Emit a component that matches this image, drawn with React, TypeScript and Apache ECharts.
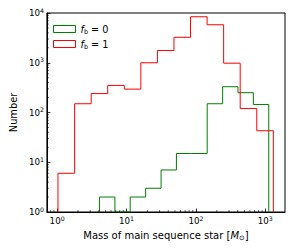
import React, { useEffect, useRef } from 'react';
import * as echarts from 'echarts';

// Histogram bin edges (solar masses) and counts
const redEdges = [1.03, 1.79, 3.1, 5.37, 9.29, 16.1, 27.9, 48.3, 83.7, 145, 251, 435, 754, 1306];
const redCounts = [6, 150, 240, 350, 295, 1000, 1760, 3250, 8400, 5800, 980, 120, 43];
const greenEdges = [4.08, 6.81, 11.3, 18.9, 31.5, 52.4, 87.3, 145.5, 243, 404, 673, 1122];
const greenCounts = [2, 0, 2, 3, 7, 15, 15, 150, 330, 250, 145];

const fbValues = ['0', '1'];
const seriesColors = ['#008000', '#ff0000'];

const xMin = 0.713;
const xMax = 1923;
const yMin = 1;
const yMax = 10000;

const xDecades = [-1, 0, 1, 2, 3];
const yDecades = [0, 1, 2, 3];
const minorMultipliers = [2, 3, 4, 5, 6, 7, 8, 9];

const FONT = 'DejaVu Sans';

function stepPoints(edges: number[], counts: number[], base: number): number[][] {
  const pts: number[][] = [[edges[0], base]];
  counts.forEach((c, i) => {
    const v = c > 0 ? c : base;
    pts.push([edges[i], v], [edges[i + 1], v]);
  });
  pts.push([edges[edges.length - 1], base]);
  return pts;
}

function powLabel(v: number): string {
  const e = Math.log10(v);
  const r = Math.round(e);
  if (Math.abs(e - r) > 1e-6) return '';
  return `{b|10}{s|${r}}`;
}

const tickRich = {
  b: { fontFamily: FONT, fontSize: 8.7, lineHeight: 12, color: '#000' },
  s: { fontFamily: FONT, fontSize: 6.2, lineHeight: 6, verticalAlign: 'top', color: '#000' },
};

export default function App() {
  const ref = useRef<HTMLDivElement>(null);
  useEffect(() => {
    if (!ref.current) return;
    const chart = echarts.init(ref.current, undefined, { renderer: 'svg' });

    const minorData: number[][] = [];
    xDecades.forEach((d) => {
      minorMultipliers.forEach((m) => {
        const v = m * Math.pow(10, d);
        if (v > xMin && v < xMax) minorData.push([v, yMin, 0]);
      });
    });
    yDecades.forEach((d) => {
      minorMultipliers.forEach((m) => {
        const v = m * Math.pow(10, d);
        if (v > yMin && v < yMax) minorData.push([xMin, v, 1]);
      });
    });

    const names = fbValues.map((f) => `fb = ${f}`);

    chart.setOption({
      animation: false,
      textStyle: { fontFamily: FONT },
      grid: {
        left: 40,
        right: 6,
        top: 13,
        bottom: 37,
        show: true,
        borderColor: '#000',
        borderWidth: 1,
        backgroundColor: 'transparent',
      },
      legend: {
        orient: 'vertical',
        left: 48,
        top: 19,
        itemWidth: 22,
        itemHeight: 7,
        itemGap: 4,
        icon: 'rect',
        data: names.map((n, i) => ({
          name: n,
          itemStyle: { color: 'rgba(0,0,0,0)', borderColor: seriesColors[i], borderWidth: 1 },
        })),
        formatter: (name: string) => `{i|f}{sub|b}{n| = ${name.split('= ')[1]}}`,
        textStyle: {
          rich: {
            i: { fontFamily: FONT, fontStyle: 'italic', fontSize: 9.7, lineHeight: 12, color: '#000' },
            sub: { fontFamily: FONT, fontSize: 6.5, lineHeight: 7, verticalAlign: 'bottom', color: '#000' },
            n: { fontFamily: FONT, fontSize: 9.7, lineHeight: 12, color: '#000' },
          },
        },
      },
      xAxis: {
        type: 'log',
        logBase: 10,
        min: xMin,
        max: xMax,
        name: '{t|Mass of main sequence star [}{m|M}{o|⊙}{t|]}',
        nameLocation: 'middle',
        nameGap: 15,
        nameTextStyle: {
          rich: {
            t: { fontFamily: FONT, fontSize: 10, lineHeight: 13, color: '#000' },
            m: { fontFamily: FONT, fontSize: 10, fontStyle: 'italic', lineHeight: 13, color: '#000' },
            o: { fontFamily: FONT, fontSize: 6.8, lineHeight: 8, verticalAlign: 'bottom', color: '#000' },
          },
        },
        axisLine: { show: true, lineStyle: { color: '#000', width: 1 } },
        axisTick: { show: true, inside: true, length: 3.5, lineStyle: { color: '#000', width: 0.8 } },
        splitLine: { show: false },
        axisLabel: {
          formatter: powLabel,
          rich: tickRich,
          margin: 3,
          showMinLabel: false,
          showMaxLabel: false,
          hideOverlap: false,
        },
      },
      yAxis: {
        type: 'log',
        logBase: 10,
        min: yMin,
        max: yMax,
        name: 'Number',
        nameLocation: 'middle',
        nameGap: 23,
        nameTextStyle: { fontFamily: FONT, fontSize: 9.8, color: '#000' },
        axisLine: { show: true, lineStyle: { color: '#000', width: 1 } },
        axisTick: { show: true, inside: true, length: 3.5, lineStyle: { color: '#000', width: 0.8 } },
        splitLine: { show: false },
        axisLabel: {
          formatter: powLabel,
          rich: tickRich,
          margin: 3,
          showMinLabel: true,
          showMaxLabel: true,
        },
      },
      series: [
        {
          name: names[0],
          type: 'line',
          data: stepPoints(greenEdges, greenCounts, yMin),
          showSymbol: false,
          symbol: 'none',
          lineStyle: { color: seriesColors[0], width: 1 },
          itemStyle: { color: seriesColors[0] },
          z: 2,
        },
        {
          name: names[1],
          type: 'line',
          data: stepPoints(redEdges, redCounts, yMin),
          showSymbol: false,
          symbol: 'none',
          lineStyle: { color: seriesColors[1], width: 1 },
          itemStyle: { color: seriesColors[1] },
          z: 3,
        },
        {
          type: 'custom',
          silent: true,
          clip: false,
          z: 10,
          data: minorData,
          renderItem: (params: any, api: any) => {
            const kind = api.value(2);
            const p = api.coord([api.value(0), api.value(1)]);
            const cs = params.coordSys;
            if (kind === 0) {
              const yb = cs.y + cs.height;
              return {
                type: 'line',
                shape: { x1: p[0], y1: yb, x2: p[0], y2: yb - 2 },
                style: { stroke: '#000', lineWidth: 0.6 },
              };
            }
            return {
              type: 'line',
              shape: { x1: cs.x, y1: p[1], x2: cs.x + 2, y2: p[1] },
              style: { stroke: '#000', lineWidth: 0.6 },
            };
          },
        },
      ],
    });
    return () => chart.dispose();
  }, []);
  return (
    <div
      ref={ref}
      style={{ position: 'fixed', left: 0, top: 0, width: 291, height: 249, background: '#fff' }}
    />
  );
}
